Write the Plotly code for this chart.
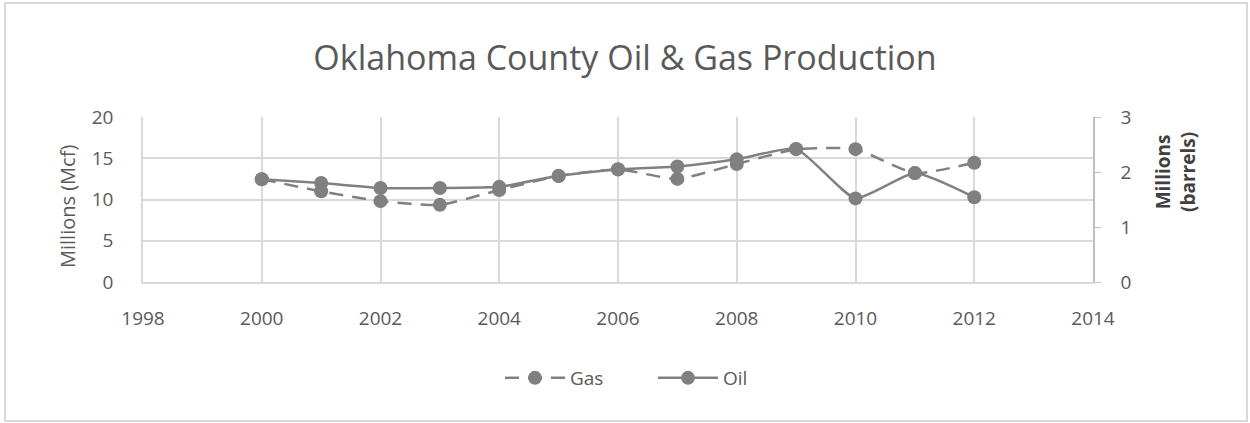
import plotly.graph_objects as go

years = [2000, 2001, 2002, 2003, 2004, 2005, 2006, 2007, 2008, 2009, 2010, 2011, 2012]
# gas in millions of Mcf (left axis), oil in millions of barrels (right axis)
gas = [12.45, 11.0, 9.8, 9.35, 11.15, 12.85, 13.65, 12.5, 14.3, 16.1, 16.1, 13.2, 14.45]
oil = [1.87, 1.80, 1.71, 1.71, 1.73, 1.93, 2.05, 2.10, 2.23, 2.42, 1.52, 1.98, 1.54]

x_ticks = [1998, 2000, 2002, 2004, 2006, 2008, 2010, 2012, 2014]

GREY = "#808080"
TEXT = "#595959"
GRID = "#d9d9d9"
FONT = "Open Sans"

fig = go.Figure()
fig.add_trace(go.Scatter(
    x=years, y=gas, name="Gas", mode="lines+markers",
    line=dict(color=GREY, width=2.5, dash="14px,9px", shape="spline", smoothing=0.5),
    marker=dict(color=GREY, size=14),
))
fig.add_trace(go.Scatter(
    x=years, y=oil, name="Oil", mode="lines+markers", yaxis="y2",
    line=dict(color=GREY, width=2.5, shape="spline", smoothing=0.5),
    marker=dict(color=GREY, size=14),
))

W, H = 1250, 423
L, R, T, B = 143, 157, 117, 141
pw, ph = W - L - R, H - T - B

fig.update_layout(
    width=W, height=H,
    margin=dict(l=L, r=R, t=T, b=B),
    paper_bgcolor="white",
    plot_bgcolor="white",
    font=dict(family=FONT, size=19, color=TEXT),
    title=dict(text="Oklahoma County Oil & Gas Production",
               x=0.5, xanchor="center", y=1 - 58 / H, yanchor="middle",
               font=dict(family=FONT, size=34, color=TEXT)),
    xaxis=dict(range=[1998, 2014], tickvals=x_ticks, showgrid=True, gridcolor=GRID,
               gridwidth=1.5, zeroline=False, showline=True, linecolor=GRID, linewidth=1.5,
               ticks="", ticklabelstandoff=18),
    yaxis=dict(range=[0, 20], tickvals=[0, 5, 10, 15, 20], showgrid=True, gridcolor=GRID,
               gridwidth=1.5, zeroline=False, showline=True, linecolor=GRID, linewidth=1.5,
               ticks="", ticklabelstandoff=24),
    yaxis2=dict(range=[0, 3], tickvals=[0, 1, 2, 3], overlaying="y", side="right",
                showgrid=False, zeroline=False, showline=True, linecolor="#bfbfbf",
                linewidth=1.5, ticks="outside", ticklen=6, tickcolor="#bfbfbf",
                ticklabelstandoff=16),
    showlegend=True,
    legend=dict(orientation="h", x=(500 - L) / pw, xanchor="left",
                y=(282 - 378) / ph, yanchor="middle", itemwidth=60, entrywidth=78,
                font=dict(family=FONT, size=19, color=TEXT)),
)

fig.add_annotation(text="Millions (Mcf)", xref="paper", yref="paper",
                   x=(67 - L) / pw, y=(282 - 207) / ph, textangle=-90,
                   showarrow=False, xanchor="center", yanchor="middle",
                   font=dict(family=FONT, size=20, color=TEXT))
fig.add_annotation(text="<b>Millions<br>(barrels)</b>", xref="paper", yref="paper",
                   x=(1175 - L) / pw, y=(282 - 172) / ph, textangle=-90,
                   showarrow=False, xanchor="center", yanchor="middle",
                   font=dict(family=FONT, size=19, color="#404040"))

# outer chart border
fig.add_shape(type="rect", xref="paper", yref="paper",
              x0=(5 - L) / pw, x1=(1247 - L) / pw,
              y0=(282 - 421) / ph, y1=(282 - 3) / ph,
              line=dict(color=GRID, width=2))

# drop the browser's default body margin so the figure sits at the page origin
fig.write_html("out.html", config={"displayModeBar": False},
               post_script="document.body.style.margin = '0';")
